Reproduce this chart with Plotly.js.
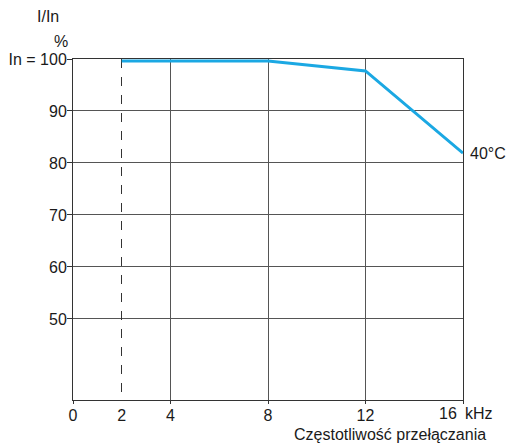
<!DOCTYPE html>
<html><head><meta charset="utf-8">
<script src="https://cdn.plot.ly/plotly-3.0.1.min.js"></script>
<style>body{margin:0;background:#fff}#c{width:512px;height:444px}</style>
</head><body><div id="c"></div>
<script>
const freq = [2, 8, 12, 16];
const current = [99.6, 99.6, 97.7, 81.9];
const xTicks = [0, 4, 8, 12, 16];
const xTickText = ['0', '4', '8', '12', ''];
const yTicks = [50, 60, 70, 80, 90, 100];
const yTickText = ['50', '60', '70', '80', '90', 'In = 100'];
const curveLabel = '40°C';

const font = {family: 'Liberation Sans, Arial, sans-serif', size: 16, color: '#1a1a1a'};
const grid = '#555';
const xr = [0, 16], yr = [34.4, 100];

Plotly.newPlot('c', [
  {x: freq, y: current, mode: 'lines', line: {color: '#1ba8e3', width: 3}, cliponaxis: false, showlegend: false, hoverinfo: 'skip'},
  {x: [2], y: [50], xaxis: 'x2', mode: 'markers', marker: {opacity: 0}, showlegend: false, hoverinfo: 'skip'}
], {
  width: 512, height: 444,
  margin: {l: 73, r: 49, t: 59, b: 44},
  paper_bgcolor: '#fff', plot_bgcolor: '#fff',
  font: font,
  xaxis: {range: xr, tickvals: xTicks, ticktext: xTickText, showgrid: true, gridcolor: grid, gridwidth: 1,
          zeroline: false, showline: true, linecolor: '#333', linewidth: 1, mirror: true,
          ticks: 'outside', ticklen: 3, tickcolor: '#333', tickfont: font, ticklabelstandoff: -2, fixedrange: true},
  xaxis2: {range: xr, overlaying: 'x', anchor: 'y', side: 'bottom', tickvals: [2], ticktext: ['2'],
           showgrid: true, gridcolor: '#333', griddash: 'dash', gridwidth: 1, zeroline: false, showline: false,
           ticks: 'outside', ticklen: 3, tickcolor: 'rgba(0,0,0,0)', tickfont: font, ticklabelstandoff: -2, fixedrange: true},
  yaxis: {range: yr, tickvals: yTicks, ticktext: yTickText, showgrid: true, gridcolor: grid, gridwidth: 1,
          zeroline: false, showline: true, linecolor: '#333', linewidth: 1, mirror: true,
          ticks: 'outside', ticklen: 5, tickcolor: '#333', tickfont: font, ticklabelstandoff: -3, fixedrange: true},
  annotations: [
    {xref: 'paper', yref: 'paper', x: 1, y: 0, xanchor: 'center', yanchor: 'top', xshift: -15, yshift: -2.5, text: '16', showarrow: false, font: font},
    {xref: 'paper', yref: 'paper', x: 1, y: 0, xanchor: 'left', yanchor: 'top', xshift: 0, yshift: -2.5, text: 'kHz', showarrow: false, font: font},
    {xref: 'paper', yref: 'paper', x: 1, y: 0, xanchor: 'right', yanchor: 'top', xshift: 25, yshift: -23.5, text: 'Częstotliwość przełączania', showarrow: false, font: font},
    {xref: 'paper', yref: 'paper', x: 0, y: 1, xanchor: 'center', yanchor: 'bottom', xshift: -25, yshift: 32.5, text: 'I/In', showarrow: false, font: font},
    {xref: 'paper', yref: 'paper', x: 0, y: 1, xanchor: 'center', yanchor: 'bottom', xshift: -12, yshift: 7.5, text: '%', showarrow: false, font: font},
    {x: freq[freq.length - 1], y: current[current.length - 1], xanchor: 'left', yanchor: 'middle', xshift: 5, yshift: 0, text: curveLabel, showarrow: false, font: font}
  ]
}, {staticPlot: true});
</script></body></html>
